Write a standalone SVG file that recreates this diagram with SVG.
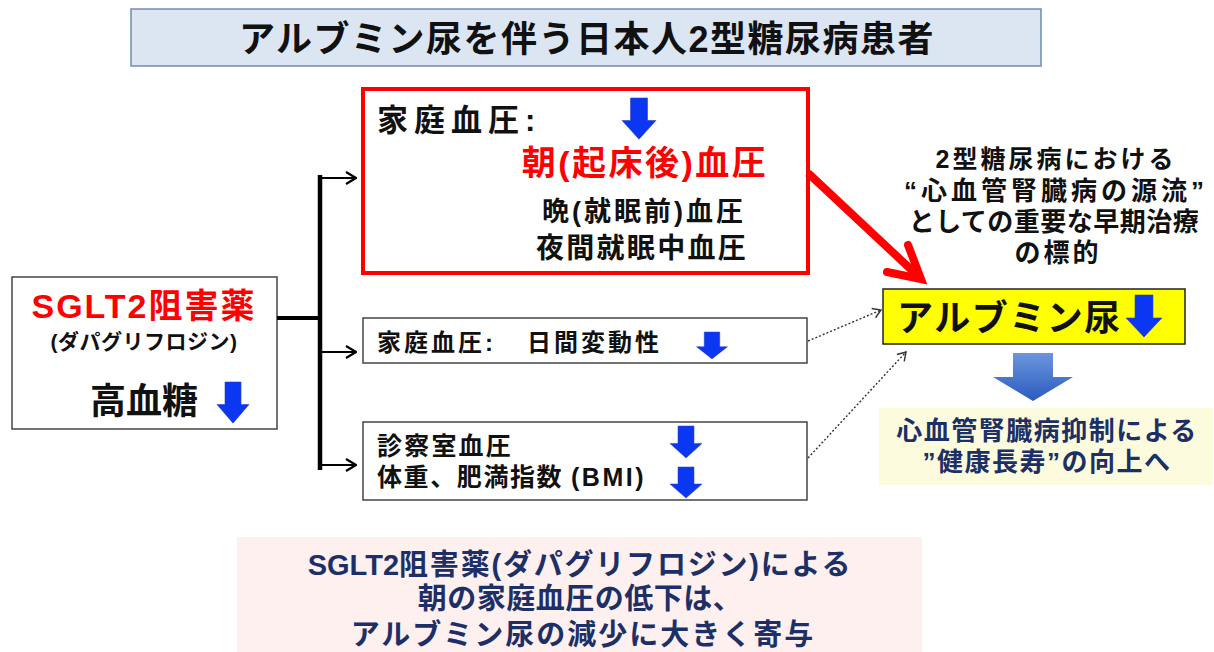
<svg xmlns="http://www.w3.org/2000/svg" xmlns:xlink="http://www.w3.org/1999/xlink" width="1214" height="652" viewBox="0 0 1214 652">
<style>
  text { font-family: 'Liberation Sans', 'Noto Sans CJK JP', sans-serif; font-weight: 700; fill: #111; }
  .red { fill: #ff0000; }
  .navy { fill: #1c2f66; }
  .mid { text-anchor: middle; }
  .box { fill: #ffffff; stroke: #444; stroke-width: 1.5; }
  .conn { fill: none; stroke: #000; stroke-width: 2.2; }
  .dot { fill: none; stroke: #333; stroke-width: 1.4; stroke-dasharray: 2 2; }
  .blue { fill: #0b36f2; stroke: #2a40c0; stroke-width: 0.6; }
</style>
<defs>
  <path id="ba" d="M-8,0 H8 V23 H16 L0,42 L-16,23 H-8 Z"/>
  <marker id="chev" viewBox="0 0 12 14" refX="11" refY="7" markerWidth="12" markerHeight="14" markerUnits="userSpaceOnUse" orient="auto">
    <path d="M1,1 L11,7 L1,13" fill="none" stroke="#000" stroke-width="2.2"/>
  </marker>
  <marker id="dchev" viewBox="0 0 10 12" refX="9" refY="6" markerWidth="10" markerHeight="12" markerUnits="userSpaceOnUse" orient="auto">
    <path d="M1,1 L9,6 L1,11" fill="none" stroke="#333" stroke-width="1.4"/>
  </marker>
  <linearGradient id="bigblue" x1="0" y1="0" x2="0" y2="1">
    <stop offset="0" stop-color="#6b96dc"/>
    <stop offset="1" stop-color="#2a5bc0"/>
  </linearGradient>
</defs>

<g id="title">
  <rect x="131" y="9" width="910" height="57" fill="#dce6f2" stroke="#6f8cb0" stroke-width="1.5"/>
  <text x="587" y="52" class="mid" font-size="36" letter-spacing="1.5">アルブミン尿を伴う日本人2型糖尿病患者</text>
</g>

<g id="sglt2">
  <rect class="box" x="12" y="277" width="265" height="152"/>
  <text x="144" y="318" class="mid red" font-size="34" letter-spacing="2">SGLT2阻害薬</text>
  <text x="144" y="349" class="mid" font-size="21" letter-spacing="0.5">(ダパグリフロジン)</text>
  <text x="90" y="414" font-size="36">高血糖</text>
  <use href="#ba" class="blue" transform="translate(233,382) scale(1,0.98)"/>
</g>

<g id="home-bp">
  <rect x="363" y="89" width="445" height="184" fill="#fff" stroke="#ff0000" stroke-width="4"/>
  <text x="377" y="131" font-size="31" letter-spacing="6">家庭血圧:</text>
  <use href="#ba" class="blue" transform="translate(639,98) scale(1.06,0.98)"/>
  <text x="645" y="175" class="mid red" font-size="34" letter-spacing="2.5">朝(起床後)血圧</text>
  <text x="644" y="221" class="mid" font-size="27" letter-spacing="3">晩(就眠前)血圧</text>
  <text x="642" y="258" class="mid" font-size="28" letter-spacing="2.3">夜間就眠中血圧</text>
</g>

<g id="variability">
  <rect class="box" x="363" y="318" width="444" height="45"/>
  <text x="377" y="351" font-size="24" letter-spacing="3">家庭血圧:</text>
  <text x="527" y="351" font-size="24" letter-spacing="3">日間変動性</text>
  <use href="#ba" class="blue" transform="translate(712,332) scale(0.97,0.64)"/>
</g>

<g id="office-bp">
  <rect class="box" x="363" y="422" width="444" height="78"/>
  <text x="377" y="455" font-size="25" letter-spacing="2.2">診察室血圧</text>
  <text x="377" y="486" font-size="25" letter-spacing="1.6">体重、肥満指数<tspan x="571" letter-spacing="2.5">(BMI)</tspan></text>
  <use href="#ba" class="blue" transform="translate(686,426) scale(1,0.76)"/>
  <use href="#ba" class="blue" transform="translate(686,467) scale(1,0.74)"/>
</g>

<g id="target-note">
  <text x="1056" y="168" class="mid" font-size="25" letter-spacing="3">2型糖尿病における</text>
  <text x="1056" y="200" class="mid" font-size="26" letter-spacing="4">“心血管腎臓病の源流”</text>
  <text x="1054" y="231" class="mid" font-size="26" letter-spacing="0.5">としての重要な早期治療</text>
  <text x="1058" y="262" class="mid" font-size="26" letter-spacing="3">の標的</text>
</g>

<g id="albuminuria">
  <rect x="883" y="289" width="302" height="55" fill="#ffff00" stroke="#222" stroke-width="1.5"/>
  <text x="897" y="331" font-size="36" letter-spacing="1.5">アルブミン尿</text>
  <use href="#ba" class="blue" transform="translate(1144,295) scale(1.12,1)"/>
</g>

<g id="big-arrow">
  <path d="M1013,353 H1053 V377 H1073 L1033,401 L993,377 H1013 Z" fill="url(#bigblue)"/>
</g>

<g id="outcome">
  <rect x="879" y="408" width="334" height="77" fill="#fdfbdd"/>
  <text x="1047" y="440" class="mid navy" font-size="26" letter-spacing="1.5">心血管腎臓病抑制による</text>
  <text x="1047" y="471" class="mid navy" font-size="26" letter-spacing="1.5">”健康長寿”の向上へ</text>
</g>

<g id="conclusion">
  <rect x="237" y="537" width="685" height="115" fill="#fdf0ef"/>
  <text x="580" y="575" class="mid navy" font-size="29" letter-spacing="1.8"><tspan letter-spacing="0">SGLT2</tspan>阻害薬(ダパグリフロジン)による</text>
  <text x="580" y="609" class="mid navy" font-size="29" letter-spacing="0.5">朝の家庭血圧の低下は、</text>
  <text x="583" y="645" class="mid navy" font-size="29" letter-spacing="2">アルブミン尿の減少に大きく寄与</text>
</g>

<g id="connectors">
  <path d="M277,318 H321" stroke="#000" stroke-width="4" fill="none"/>
  <path d="M320,175 V470" stroke="#000" stroke-width="4.5" fill="none"/>
  <path class="conn" d="M322,178 H356" marker-end="url(#chev)"/>
  <path class="conn" d="M322,352 H356" marker-end="url(#chev)"/>
  <path class="conn" d="M322,465 H356" marker-end="url(#chev)"/>
  <path d="M808,173 L918,276" stroke="#ff0000" stroke-width="8" fill="none"/>
  <polyline points="887,272 921,279 908,245" stroke="#ff0000" stroke-width="8" fill="none" stroke-linejoin="miter" stroke-linecap="round"/>
  <path class="dot" d="M808,341 L881,310" marker-end="url(#dchev)"/>
  <path class="dot" d="M808,458 L906,352" marker-end="url(#dchev)"/>
</g>
</svg>
